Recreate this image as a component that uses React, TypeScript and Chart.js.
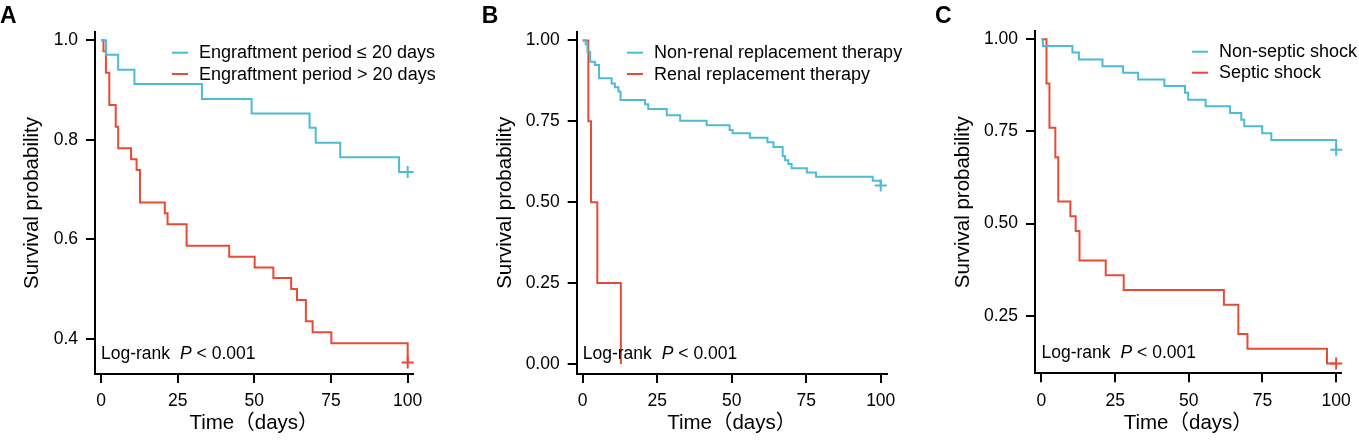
import { useEffect, useRef } from "react";
import { Chart, registerables } from "chart.js";

Chart.register(...registerables);

const FONT = "'Liberation Sans', Arial, 'Noto Sans CJK SC', sans-serif";
const BLUE = "#4DBBD5";
const RED = "#E64B35";

// shared axis ticks
const timeTicks = [0, 25, 50, 75, 100];
const timeLabels = ["0", "25", "50", "75", "100"];

// Panel A: engraftment period
const survTicksA = [0.4, 0.6, 0.8, 1.0];
const survLabelsA = ["0.4", "0.6", "0.8", "1.0"];
const shortTimes = [0, 1.6, 5.6, 10.9, 32.9, 49.1, 68, 70, 78, 97.2, 100];
const shortSurv = [1, 0.971, 0.941, 0.912, 0.882, 0.853, 0.824, 0.794, 0.765, 0.735, 0.735];
const longTimes = [0, 0.8, 1.6, 2.7, 4.8, 5.6, 9.8, 11.6, 12.7, 20.8, 21.7, 27.9, 41.8, 50.1, 56.2, 62, 63.9, 66.8, 69, 75.1, 100];
const longSurv = [1, 0.978, 0.935, 0.87, 0.826, 0.783, 0.761, 0.739, 0.674, 0.652, 0.63, 0.587, 0.565, 0.543, 0.522, 0.5, 0.478, 0.435, 0.413, 0.391, 0.352];

// Panel B: renal replacement therapy
const survTicksB = [0, 0.25, 0.5, 0.75, 1.0];
const survLabelsB = ["0.00", "0.25", "0.50", "0.75", "1.00"];
const nonRrtTimes = [0, 1.0, 1.6, 2.5, 4.1, 5.5, 9.7, 10.8, 12.0, 12.7, 20.9, 22.0, 28.2, 32.7, 41.6, 49.3, 50.3, 56.1, 62.0, 64.0, 67.1, 67.9, 69.0, 70.1, 75.2, 78.3, 97.3, 100];
const nonRrtSurv = [1, 0.988, 0.965, 0.934, 0.924, 0.883, 0.867, 0.855, 0.842, 0.816, 0.803, 0.788, 0.769, 0.752, 0.738, 0.723, 0.713, 0.699, 0.685, 0.671, 0.643, 0.63, 0.618, 0.605, 0.592, 0.579, 0.566, 0.552];
const rrtTimes = [0, 1.9, 2.8, 4.9, 12.8];
const rrtSurv = [1, 0.75, 0.5, 0.25, 0];

// Panel C: septic shock
const survTicksC = [0.25, 0.5, 0.75, 1.0];
const survLabelsC = ["0.25", "0.50", "0.75", "1.00"];
const nonShockTimes = [0, 0.5, 10.5, 12.7, 20.7, 27.7, 32.8, 41.7, 48.7, 49.8, 55.7, 64.0, 67.8, 68.8, 74.9, 78.0, 100];
const nonShockSurv = [1, 0.982, 0.964, 0.945, 0.927, 0.909, 0.891, 0.873, 0.855, 0.836, 0.818, 0.8, 0.782, 0.764, 0.745, 0.727, 0.7];
const shockTimes = [0, 1.7, 2.7, 4.7, 5.7, 9.8, 11.6, 12.9, 21.8, 27.9, 61.9, 66.8, 69.9, 96.9, 100];
const shockSurv = [1, 0.88, 0.76, 0.68, 0.56, 0.52, 0.48, 0.4, 0.36, 0.32, 0.28, 0.2, 0.16, 0.12, 0.12];

interface Group {
  label: string;
  color: string;
  times: number[];
  surv: number[];
  censored: boolean;
}

interface PanelConfig {
  letter: string;
  left: number;
  width: number;
  padTop: number;
  padRight: number;
  yWidth: number;
  xHeight: number;
  yTitlePad: number;
  xMin: number;
  xMax: number;
  yMin: number;
  yMax: number;
  yTicks: number[];
  yLabels: string[];
  letterX: number;
  legendX: number;
  legendY: number[];
  groups: Group[];
}

const panels: PanelConfig[] = [
  {
    letter: "A", left: 0, width: 455, padTop: 32, padRight: 42, yWidth: 95, xHeight: 66, yTitlePad: 20,
    xMin: -1.96, xMax: 101.73, yMin: 0.329, yMax: 1.0167,
    yTicks: survTicksA, yLabels: survLabelsA,
    letterX: 0, legendX: 172, legendY: [52.7, 74],
    groups: [
      { label: "Engraftment period ≤ 20 days", color: BLUE, times: shortTimes, surv: shortSurv, censored: true },
      { label: "Engraftment period > 20 days", color: RED, times: longTimes, surv: longSurv, censored: true },
    ],
  },
  {
    letter: "B", left: 455, width: 460, padTop: 31.7, padRight: 28.3, yWidth: 121.7, xHeight: 66, yTitlePad: 38,
    xMin: -2.01, xMax: 102.0, yMin: -0.031, yMax: 1.027,
    yTicks: survTicksB, yLabels: survLabelsB,
    letterX: 26.7, legendX: 172, legendY: [52.7, 74],
    groups: [
      { label: "Non-renal replacement therapy", color: BLUE, times: nonRrtTimes, surv: nonRrtSurv, censored: true },
      { label: "Renal replacement therapy", color: RED, times: rrtTimes, surv: rrtSurv, censored: false },
    ],
  },
  {
    letter: "C", left: 915, width: 444, padTop: 31, padRight: 14, yWidth: 120, xHeight: 66.7, yTitlePad: 36.3,
    xMin: -2.2, xMax: 101.8, yMin: 0.0937, yMax: 1.0225,
    yTicks: survTicksC, yLabels: survLabelsC,
    letterX: 20, legendX: 277, legendY: [51.7, 72.7],
    groups: [
      { label: "Non-septic shock", color: BLUE, times: nonShockTimes, surv: nonShockSurv, censored: true },
      { label: "Septic shock", color: RED, times: shockTimes, surv: shockSurv, censored: true },
    ],
  },
];

// letter, legend and log-rank note drawn on top of the chart
function makeDecor(cfg: PanelConfig) {
  return {
    id: "panelDecor" + cfg.letter,
    afterDraw(chart: Chart) {
      const { ctx, chartArea, scales } = chart;
      ctx.save();
      ctx.fillStyle = "#000";
      ctx.textAlign = "left";
      ctx.textBaseline = "alphabetic";
      ctx.font = `bold 23px ${FONT}`;
      ctx.fillText(cfg.letter, cfg.letterX, 23.4);

      cfg.groups.forEach((g, i) => {
        const y = cfg.legendY[i];
        ctx.strokeStyle = g.color;
        ctx.lineWidth = 2;
        ctx.beginPath();
        ctx.moveTo(cfg.legendX, y);
        ctx.lineTo(cfg.legendX + 16, y);
        ctx.stroke();
        ctx.font = `18px ${FONT}`;
        ctx.fillStyle = "#000";
        ctx.fillText(g.label, cfg.legendX + 27, y + 5.6);
      });

      const x0 = scales.x.getPixelForValue(0);
      const base = chartArea.bottom - 15;
      ctx.font = `17.5px ${FONT}`;
      ctx.fillText("Log-rank", x0, base);
      let x = x0 + ctx.measureText("Log-rank").width + 10;
      ctx.font = `italic 17.5px ${FONT}`;
      ctx.fillText("P", x, base);
      x += ctx.measureText("P").width;
      ctx.font = `17.5px ${FONT}`;
      ctx.fillText(" < 0.001", x, base);
      ctx.restore();
    },
  };
}

function Panel({ cfg }: { cfg: PanelConfig }) {
  const canvasRef = useRef<HTMLCanvasElement>(null);

  useEffect(() => {
    if (!canvasRef.current) return;

    const datasets: any[] = [];
    cfg.groups.forEach((g) => {
      datasets.push({
        label: g.label,
        data: g.times.map((t, i) => ({ x: t, y: g.surv[i] })),
        borderColor: g.color,
        borderWidth: 2,
        stepped: "before",
        pointRadius: 0,
        fill: false,
        clip: 8,
      });
    });
    cfg.groups.forEach((g) => {
      if (!g.censored) return;
      const last = g.times.length - 1;
      datasets.push({
        label: g.label + " censored",
        data: [{ x: g.times[last], y: g.surv[last] }],
        borderColor: g.color,
        backgroundColor: g.color,
        borderWidth: 2,
        showLine: false,
        pointStyle: "cross",
        pointRadius: 6,
        clip: 10,
      });
    });

    const grid = { drawOnChartArea: false, drawTicks: true, tickLength: 9, color: "#000", lineWidth: 2 };
    const border = { display: true, color: "#000", width: 2 };

    const chart = new Chart(canvasRef.current, {
      type: "line",
      data: { datasets },
      options: {
        animation: false,
        responsive: false,
        layout: { padding: { left: 0, top: cfg.padTop, right: cfg.padRight, bottom: 0 } },
        plugins: { legend: { display: false }, tooltip: { enabled: false } },
        scales: {
          x: {
            type: "linear",
            min: cfg.xMin,
            max: cfg.xMax,
            afterBuildTicks: (s: any) => {
              s.ticks = timeTicks.map((v) => ({ value: v }));
            },
            afterFit: (s: any) => {
              s.height = cfg.xHeight;
            },
            ticks: {
              callback: (_v: any, i: number) => timeLabels[i],
              padding: 8,
              color: "#000",
              font: { size: 17.5, family: FONT },
              maxRotation: 0,
              autoSkip: false,
            },
            grid,
            border,
            title: {
              display: true,
              text: "Time（days）",
              color: "#000",
              font: { size: 20.5, family: FONT },
              padding: { top: 0, bottom: 4 },
            },
          },
          y: {
            type: "linear",
            min: cfg.yMin,
            max: cfg.yMax,
            afterBuildTicks: (s: any) => {
              s.ticks = cfg.yTicks.map((v) => ({ value: v }));
            },
            afterFit: (s: any) => {
              s.width = cfg.yWidth;
            },
            ticks: {
              callback: (_v: any, i: number) => cfg.yLabels[i],
              padding: 8,
              color: "#000",
              font: { size: 17.5, family: FONT },
              autoSkip: false,
            },
            grid,
            border,
            title: {
              display: true,
              text: "Survival probability",
              color: "#000",
              font: { size: 20.5, family: FONT },
              padding: { top: cfg.yTitlePad, bottom: 0 },
            },
          },
        },
      },
      plugins: [makeDecor(cfg)],
    });

    return () => {
      chart.destroy();
    };
  }, [cfg]);

  return (
    <canvas
      ref={canvasRef}
      width={cfg.width}
      height={440}
      style={{ position: "absolute", left: cfg.left, top: 0, width: cfg.width, height: 440 }}
    />
  );
}

export default function App() {
  return (
    <div style={{ position: "absolute", left: 0, top: 0, width: 1359, height: 440, background: "#fff" }}>
      {panels.map((p) => (
        <Panel key={p.letter} cfg={p} />
      ))}
    </div>
  );
}
